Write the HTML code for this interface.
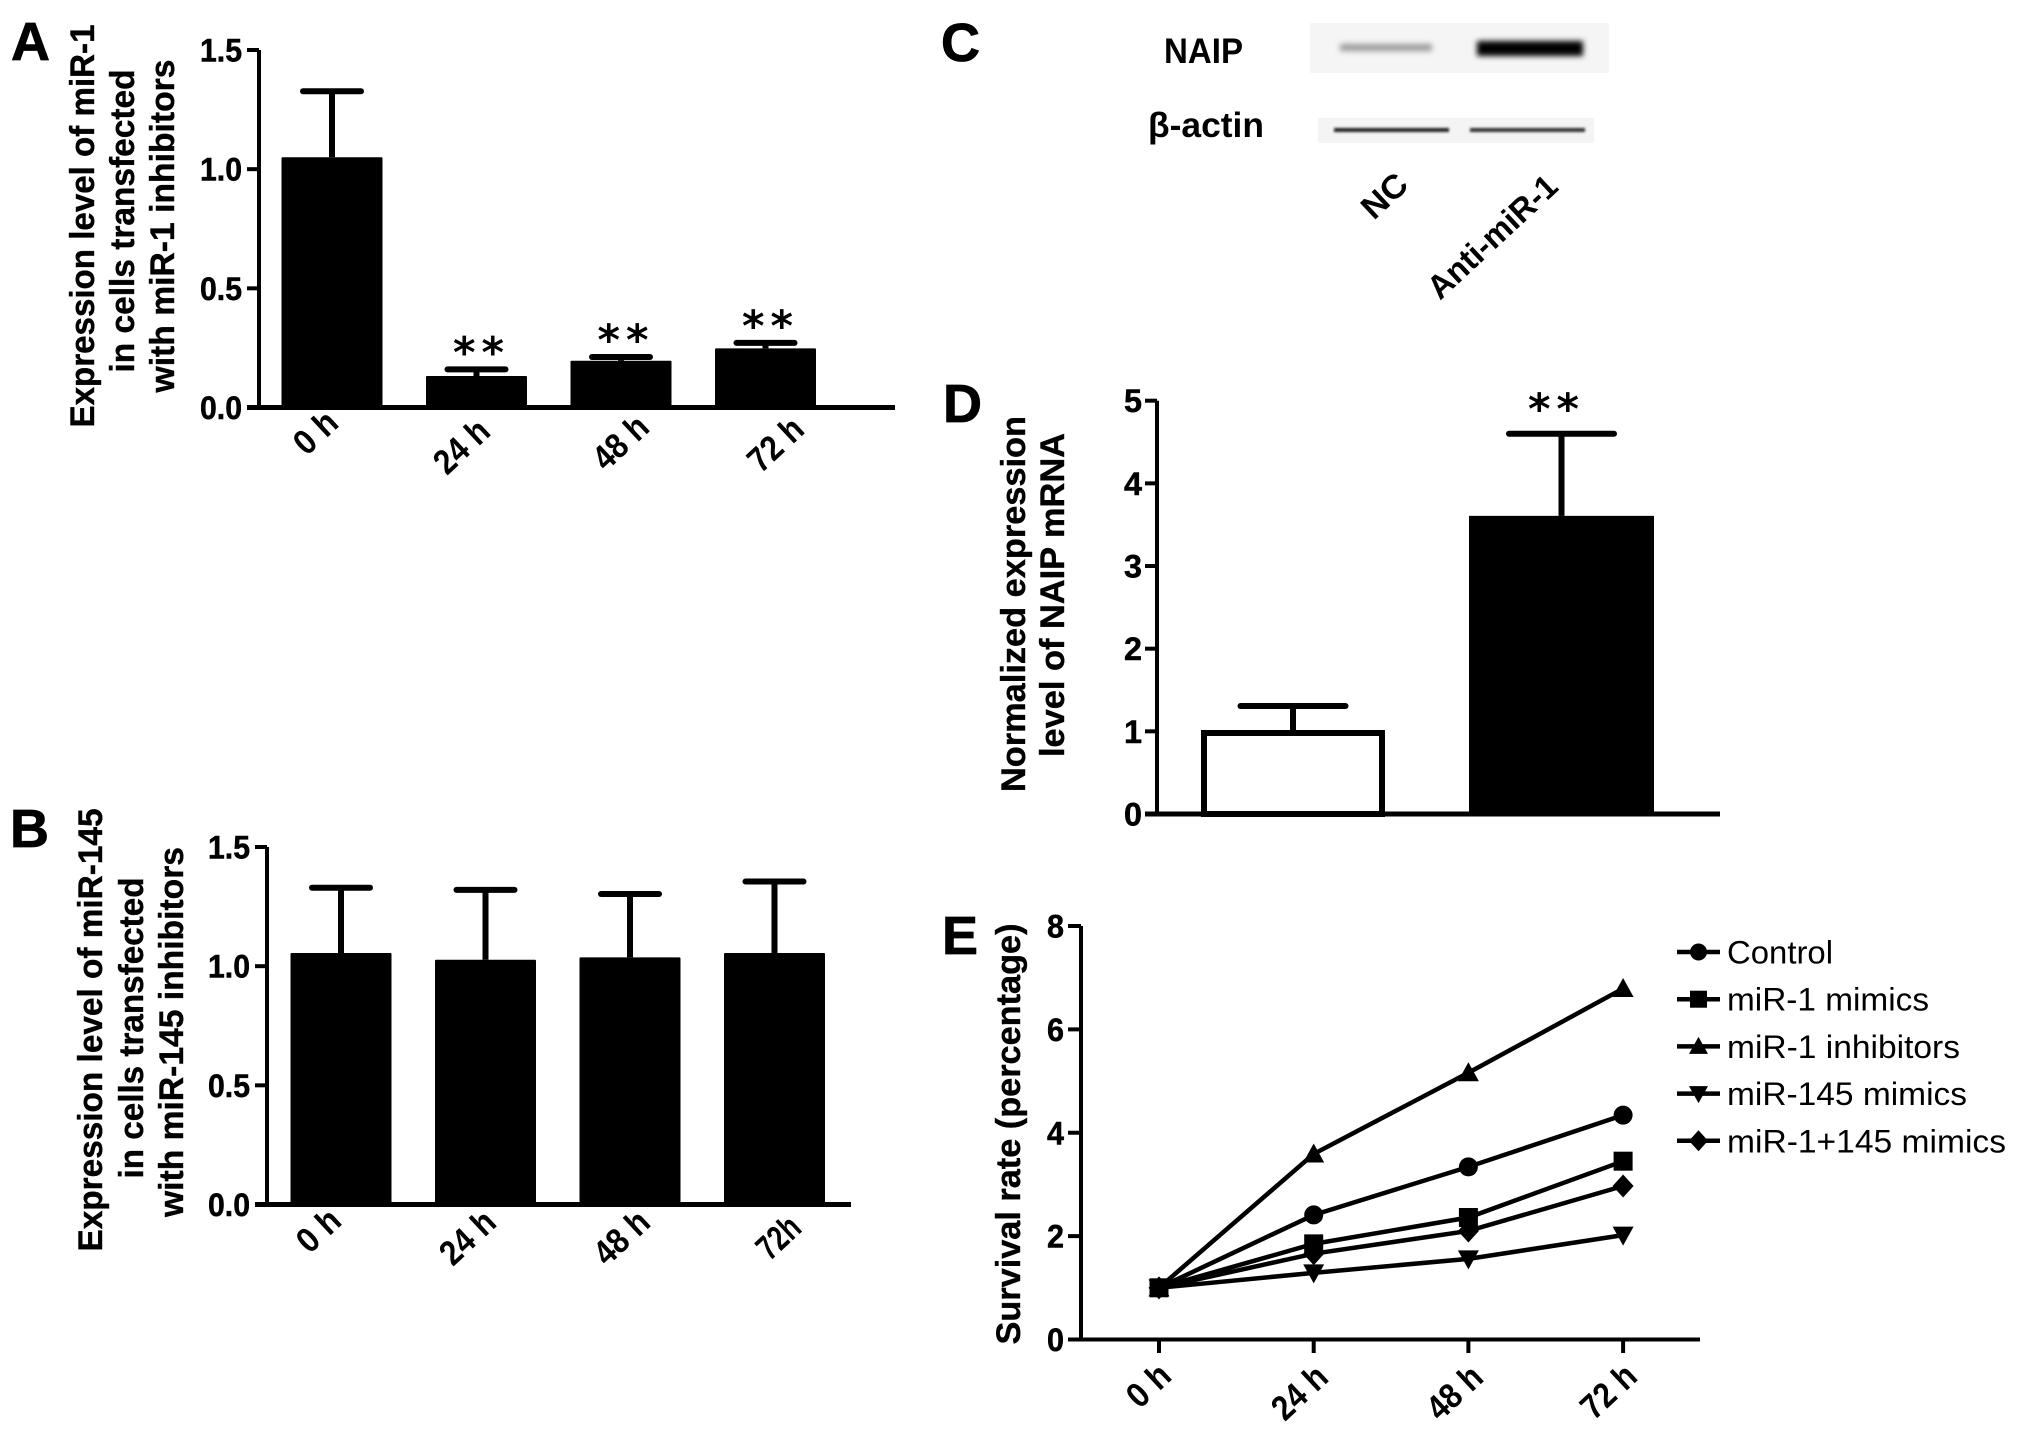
<!DOCTYPE html>
<html lang="en">
<head>
<meta charset="utf-8">
<title>miR-1 and miR-145 expression and survival panels</title>
<style>
html,body{margin:0;padding:0;background:#fff;width:2031px;height:1439px;overflow:hidden}
svg{display:block}
text{font-family:"Liberation Sans",sans-serif;fill:#000}
.b{font-weight:bold}
.panel{font-weight:bold;font-size:54px;stroke:#000;stroke-width:.8}
.title{font-weight:bold;font-size:34px;text-anchor:middle;stroke:#000;stroke-width:.4}
.tick{font-weight:bold;font-size:32px;text-anchor:end;stroke:#000;stroke-width:.5}
.xl{font-weight:bold;font-size:35px;text-anchor:middle}
.star{font-family:"DejaVu Sans",sans-serif;font-weight:bold;font-size:43px;text-anchor:middle}
.leg{font-size:32px}
</style>
</head>
<body>
<svg id="fig" xmlns="http://www.w3.org/2000/svg" width="2031" height="1439" viewBox="0 0 2031 1439">
  <defs>
    <filter id="bl1" x="-20%" y="-100%" width="140%" height="300%"><feGaussianBlur stdDeviation="3"/></filter>
    <filter id="bl2" x="-20%" y="-100%" width="140%" height="300%"><feGaussianBlur stdDeviation="1.2"/></filter>
  </defs>
  <rect width="2031" height="1439" fill="#fff"/>

  <text class="panel" x="11" y="60" font-size="56">A</text>
  <text class="panel" x="10" y="847">B</text>
  <text class="panel" x="941" y="61">C</text>
  <text class="panel" x="943" y="422">D</text>
  <text class="panel" x="942" y="954">E</text>

  <g>
    <text class="title" transform="translate(94,226) rotate(-90)" textLength="403" lengthAdjust="spacingAndGlyphs">Expression level of miR-1</text>
    <text class="title" transform="translate(134,221) rotate(-90)" textLength="303" lengthAdjust="spacingAndGlyphs">in cells transfected</text>
    <text class="title" transform="translate(174,226) rotate(-90)" textLength="333" lengthAdjust="spacingAndGlyphs">with miR-1 inhibitors</text>
  </g>
  <g>
    <text class="title" transform="translate(102,1030) rotate(-90)" textLength="443" lengthAdjust="spacingAndGlyphs">Expression level of miR-145</text>
    <text class="title" transform="translate(143,1028) rotate(-90)" textLength="301" lengthAdjust="spacingAndGlyphs">in cells transfected</text>
    <text class="title" transform="translate(183,1032) rotate(-90)" textLength="370" lengthAdjust="spacingAndGlyphs">with miR-145 inhibitors</text>
  </g>
  <g>
    <text class="title" transform="translate(1025,604) rotate(-90)" textLength="376" lengthAdjust="spacingAndGlyphs">Normalized expression</text>
    <text class="title" transform="translate(1064,595) rotate(-90)" textLength="324" lengthAdjust="spacingAndGlyphs">level of NAIP mRNA</text>
  </g>
  <text class="title" transform="translate(1020,1134) rotate(-90)" textLength="421" lengthAdjust="spacingAndGlyphs">Survival rate (percentage)</text>

  <g>
    <rect x="1310" y="23" width="299" height="50" fill="#f5f5f5"/>
    <rect x="1340" y="44" width="92" height="7" fill="#999" filter="url(#bl1)"/>
    <rect x="1477" y="41" width="106" height="15" fill="#000" filter="url(#bl1)"/>
    <rect x="1318" y="118" width="276" height="25" fill="#f4f4f4"/>
    <rect x="1334" y="128" width="115" height="4" fill="#222" filter="url(#bl2)"/>
    <rect x="1470" y="128" width="115" height="4" fill="#333" filter="url(#bl2)"/>
  </g>
  <text class="b" x="1164" y="63" font-size="35" textLength="79" lengthAdjust="spacingAndGlyphs">NAIP</text>
  <text class="b" x="1148" y="137" font-size="35" textLength="116" lengthAdjust="spacingAndGlyphs">β-actin</text>
  <text class="b" text-anchor="middle" font-size="33" transform="translate(1392,204) rotate(-43)" textLength="50" lengthAdjust="spacingAndGlyphs">NC</text>
  <text class="b" text-anchor="middle" font-size="33" transform="translate(1500,245) rotate(-43)" textLength="164" lengthAdjust="spacingAndGlyphs">Anti-miR-1</text>
</svg>

<script>
// Shared categories
const timeLabels = ['0 h', '24 h', '48 h', '72 h'];
const timeLabelsB = ['0 h', '24 h', '48 h', '72h'];
const ticksAB = ['0.0', '0.5', '1.0', '1.5'];
const ticksD = ['0', '1', '2', '3', '4', '5'];
const ticksE = ['0', '2', '4', '6', '8'];

// Panel A values
const aMeans = [1.05, 0.132, 0.196, 0.248];
const aUpper = [1.327, 0.16, 0.212, 0.271];
const aStars = [false, true, true, true];

// Panel B values
const bMeans = [1.055, 1.027, 1.037, 1.055];
const bUpper = [1.329, 1.32, 1.303, 1.355];

// Panel D values
const dMeans = [0.98, 3.607];
const dUpper = [1.307, 4.60];

// Panel E values
const eControl = [1, 2.41, 3.34, 4.34];
const eMimics1 = [1, 1.85, 2.36, 3.45];
const eInhibitors1 = [1, 3.59, 5.16, 6.79];
const eMimics145 = [1, 1.29, 1.56, 2.02];
const eMimicsBoth = [1, 1.66, 2.10, 2.97];
const legendLabels = ['Control', 'miR-1 mimics', 'miR-1 inhibitors', 'miR-145 mimics', 'miR-1+145 mimics'];

const NS = 'http://www.w3.org/2000/svg';
const fig = document.getElementById('fig');

function make(tag, attrs, parent) {
  const e = document.createElementNS(NS, tag);
  for (const k in attrs) e.setAttribute(k, attrs[k]);
  (parent || fig).appendChild(e);
  return e;
}
function linear(d0, d1, r0, r1) {
  return v => r0 + (v - d0) / (d1 - d0) * (r1 - r0);
}
function yTicks(id, labels, step, y, axisX, tickX0, labelRight, labelW) {
  const axis = make('path', {d: 'M' + axisX + ' ' + y(labels.length ? (labels.length - 1) * step : 0) + 'V' + y(0), stroke: '#000', 'stroke-width': 4, fill: 'none'});
  
  
  labels.forEach((t, i) => {
    const v = i * step;
    const tk = make('path', {d: 'M' + tickX0 + ' ' + y(v) + 'H' + axisX, stroke: '#000', 'stroke-width': 4});
    
    
    const tx = make('text', {class: 'tick', x: labelRight, y: y(v) + 11.5, textLength: labelW, lengthAdjust: 'spacingAndGlyphs'});
    tx.textContent = t;
    
    
  });
}
function xLabels(id, labels, centers, dy) {
  labels.forEach((t, i) => {
    const c = centers(i);
    const tx = make('text', {class: 'xl', transform: 'translate(' + c[0] + ',' + c[1] + ') rotate(-43)', y: dy, textLength: t.length > 3 ? 62 : 46, lengthAdjust: 'spacingAndGlyphs'});
    tx.textContent = t;
    
    
  });
}
function errorBar(id, cx, top, cap, capW) {
  const s = make('path', {d: 'M' + cx + ' ' + top + 'V' + cap, stroke: '#000', 'stroke-width': 6});
  
  
  const c = make('path', {d: 'M' + (cx - capW / 2) + ' ' + cap + 'H' + (cx + capW / 2), stroke: '#000', 'stroke-width': 6, 'stroke-linecap': 'round'});
  
  
}
function stars(id, cx, cy) {
  const t = make('text', {class: 'star', x: cx, y: cy + 20, 'letter-spacing': 6});
  t.textContent = '**';
  
  
}
function barPanel(id, means, upper, labels, x0Axis, xEnd, firstCenter, step, barW, tickLeft, labelRight, y) {
  means.forEach((m, i) => {
    const cx = firstCenter + i * step;
    errorBar(id + '-' + i, cx, y(m), y(upper[i]), 58);
    const r = make('rect', {x: cx - barW / 2, y: y(m), width: barW, height: y(0) - y(m), fill: '#000', rx: 1});
    
    
  });
  const xa = make('path', {d: 'M' + tickLeft + ' ' + y(0) + 'H' + xEnd, stroke: '#000', 'stroke-width': 5});
  
  
  yTicks(id, ticksAB, 0.5, y, x0Axis, tickLeft, labelRight, 42);
}

/* Panel A */
const yA = linear(0, 1.5, 407.5, 50);
const xA = i => 332 + i * 144.5;
barPanel('panel-a', aMeans, aUpper, timeLabels, 259, 895, 332, 144.5, 101, 247, 242, yA);
aStars.forEach((on, i) => {
  if (on) stars('panel-a-' + i, xA(i) + 5, yA(aUpper[i]) - 22);
});
xLabels('panel-a', timeLabels, i => [[316, 433], [462, 447], [621, 443], [776, 445]][i], 11);

/* Panel B */
const yB = linear(0, 1.5, 1204.5, 847);
barPanel('panel-b', bMeans, bUpper, timeLabelsB, 267, 851, 341, 144.5, 101, 255, 250, yB);
xLabels('panel-b', timeLabelsB, i => [[319, 1231], [468, 1238], [622, 1238], [779, 1238]][i], 11);

/* Panel D */
const yD = linear(0, 5, 814, 400.7);
const xD = i => 1293 + i * 268.5;
dMeans.forEach((m, i) => {
  const cx = xD(i);
  errorBar('panel-d-' + i, cx, yD(m), yD(dUpper[i]), 105);
  const r = make('rect', i === 0
    ? {x: cx - 89, y: yD(m), width: 178, height: yD(0) - yD(m), fill: '#fff', stroke: '#000', 'stroke-width': 6}
    : {x: cx - 92.5, y: yD(m), width: 185, height: yD(0) - yD(m), fill: '#000'});
  
  
});
const xaD = make('path', {d: 'M1145 ' + yD(0) + 'H1720', stroke: '#000', 'stroke-width': 5});


yTicks('panel-d', ticksD, 1, yD, 1157, 1145, 1142, 18);
stars('panel-d-1', xD(1) - 5, 404);

/* Panel E */
const yE = linear(0, 8, 1339.5, 926);
const xE = i => 1159 + i * 154.7;
function marker(kind, cx, cy, parent, s) {
  let m;
  if (kind === 'circle') {
    m = make('circle', {cx: cx, cy: cy, r: s}, parent);
  } else if (kind === 'square') {
    m = make('rect', {x: cx - s, y: cy - s, width: 2 * s, height: 2 * s}, parent);
  } else if (kind === 'up') {
    m = make('path', {d: 'M' + cx + ' ' + (cy - s - 1) + 'L' + (cx + s + 1) + ' ' + (cy + s - 1) + 'H' + (cx - s - 1) + 'Z'}, parent);
  } else if (kind === 'down') {
    m = make('path', {d: 'M' + cx + ' ' + (cy + s + 1) + 'L' + (cx + s + 1) + ' ' + (cy - s + 1) + 'H' + (cx - s - 1) + 'Z'}, parent);
  } else {
    m = make('path', {d: 'M' + cx + ' ' + (cy - s - 2) + 'L' + (cx + s + 1) + ' ' + cy + 'L' + cx + ' ' + (cy + s + 2) + 'L' + (cx - s - 1) + ' ' + cy + 'Z'}, parent);
  }
  m.setAttribute('fill', '#000');
  return m;
}
const eSeries = [
  ['miR-1 inhibitors', eInhibitors1, 'up'],
  ['Control', eControl, 'circle'],
  ['miR-145 mimics', eMimics145, 'down'],
  ['miR-1+145 mimics', eMimicsBoth, 'diamond'],
  ['miR-1 mimics', eMimics1, 'square']
];
eSeries.forEach(s => {
  const slug = s[0].toLowerCase().replace(/[^a-z0-9]+/g, '-');
  const g = make('g', {});
  
  
  const pl = make('polyline', {points: s[1].map((v, i) => xE(i) + ',' + yE(v)).join(' '), fill: 'none', stroke: '#000', 'stroke-width': 4.5}, g);
  
  
  s[1].forEach((v, i) => {
    const m = marker(s[2], xE(i), yE(v), g, 9.5);
    
    
  });
});
const xaE = make('path', {d: 'M1068 ' + yE(0) + 'H1700', stroke: '#000', 'stroke-width': 4});


timeLabels.forEach((t, i) => {
  const tk = make('path', {d: 'M' + xE(i) + ' ' + yE(0) + 'V1353', stroke: '#000', 'stroke-width': 4});
  
  
});
yTicks('panel-e', ticksE, 2, yE, 1081, 1068, 1064, 17);
xLabels('panel-e', timeLabels, i => [[1149, 1386], [1300, 1393], [1455, 1393], [1609, 1392]][i], 11);

/* Legend */
const legendKinds = ['circle', 'square', 'up', 'down', 'diamond'];
const legendLengths = [106, 202, 233, 240, 279];
legendLabels.forEach((t, i) => {
  const cy = 952 + i * 47.2;
  const g = make('g', {});
  
  
  const ln = make('path', {d: 'M1677 ' + cy + 'H1720', stroke: '#000', 'stroke-width': 4.5}, g);
  
  
  const mk = marker(legendKinds[i], 1698.5, cy, g, 8.5);
  
  
  const tx = make('text', {class: 'leg', x: 1727, y: cy + 11.5, textLength: legendLengths[i], lengthAdjust: 'spacingAndGlyphs'}, g);
  tx.textContent = t;
  
  
});
</script>
</body>
</html>
